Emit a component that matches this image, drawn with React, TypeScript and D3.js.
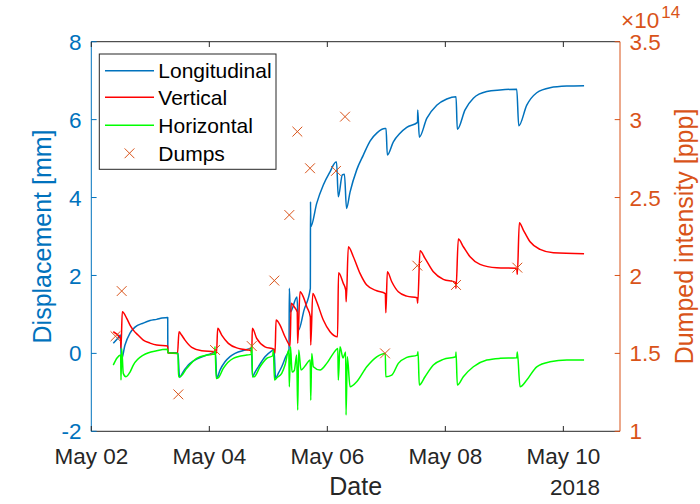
import React from "react";
import * as d3 from "d3";

// ---- data (time = days after 2018-05-02 00:00 UTC) ----
const longitudinal: [number, number][] = [
  [0.373, 0.257], [0.453, 0.393], [0.495, 0.47], [0.508, -0.17], [0.571, 0.213], [0.656, 0.521],
  [0.741, 0.675], [0.881, 0.778], [0.995, 0.842], [1.108, 0.873], [1.198, 0.906], [1.295, 0.924],
  [1.297, 0.02], [1.469, 0.008], [1.495, -0.616], [1.554, -0.48], [1.644, -0.30], [1.724, -0.198],
  [1.814, -0.128], [1.983, -0.031], [2.105, 0.02], [2.125, -0.642], [2.181, -0.429], [2.266, -0.216],
  [2.351, -0.082], [2.436, 0.0], [2.605, 0.085], [2.715, 0.128], [2.732, -0.6], [2.775, -0.48],
  [2.831, -0.344], [2.944, -0.087], [3.058, 0.067], [3.097, 0.103], [3.122, -0.642], [3.164, -0.53],
  [3.227, -0.344], [3.3, -0.07], [3.351, 0.085], [3.356, 1.669], [3.373, 1.06], [3.486, 1.445],
  [3.512, 0.598], [3.605, 1.11], [3.712, 1.669], [3.715, 3.892], [3.72, 3.25], [3.82, 3.85],
  [3.932, 4.32], [4.046, 4.66], [4.147, 4.91], [4.156, 4.91], [4.186, 4.02], [4.254, 4.58],
  [4.29, 4.6], [4.325, 3.72], [4.385, 4.14], [4.498, 4.71], [4.61, 5.09], [4.724, 5.45],
  [4.842, 5.66], [4.978, 5.77], [4.995, 5.77], [5.017, 5.09], [5.119, 5.43], [5.232, 5.65],
  [5.346, 5.8], [5.529, 5.93], [5.532, 6.25], [5.559, 5.55], [5.685, 6.03], [5.854, 6.37],
  [6.024, 6.53], [6.181, 6.59], [6.203, 5.75], [6.334, 6.25], [6.475, 6.55], [6.702, 6.72],
  [6.927, 6.76], [7.21, 6.78], [7.244, 5.84], [7.38, 6.37], [7.549, 6.69], [7.775, 6.82],
  [8.058, 6.86], [8.351, 6.87],
];

const vertical: [number, number][] = [
  [0.373, 0.555], [0.495, 0.38], [0.503, 0.136], [0.525, 1.068], [0.6, 0.9], [0.656, 0.727],
  [0.712, 0.598], [0.792, 0.47], [0.881, 0.341], [0.995, 0.264], [1.108, 0.213], [1.295, 0.187],
  [1.3, 0.008], [1.461, 0.0], [1.486, 0.555], [1.53, 0.47], [1.588, 0.341], [1.702, 0.154],
  [1.871, 0.067], [2.097, 0.041], [2.122, 0.008], [2.142, 0.642], [2.21, 0.47], [2.322, 0.257],
  [2.492, 0.128], [2.707, 0.072], [2.719, 0.008], [2.729, 0.642], [2.803, 0.385], [2.944, 0.169],
  [3.097, 0.103], [3.114, 0.008], [3.131, 0.855], [3.198, 0.727], [3.283, 0.426], [3.351, 0.226],
  [3.368, 0.187], [3.388, 1.284], [3.441, 1.19], [3.49, 1.06], [3.498, 0.257], [3.537, 1.58],
  [3.593, 1.45], [3.651, 1.196], [3.712, 0.94], [3.719, 0.213], [3.753, 1.54], [3.82, 1.325],
  [3.932, 0.855], [4.046, 0.555], [4.173, 0.426], [4.19, 2.07], [4.271, 1.797], [4.312, 1.625],
  [4.32, 1.325], [4.356, 2.737], [4.441, 2.48], [4.554, 2.054], [4.668, 1.753], [4.837, 1.607],
  [4.983, 1.535], [4.992, 1.042], [5.017, 2.095], [5.092, 1.838], [5.203, 1.58], [5.346, 1.47],
  [5.52, 1.427], [5.532, 1.284], [5.571, 2.634], [5.656, 2.439], [5.797, 2.095], [5.966, 1.9],
  [6.173, 1.823], [6.181, 1.669], [6.22, 2.934], [6.305, 2.737], [6.419, 2.48], [6.588, 2.285],
  [6.871, 2.198], [7.21, 2.182], [7.22, 2.028], [7.254, 3.353], [7.322, 3.166], [7.436, 2.865],
  [7.605, 2.67], [7.831, 2.583], [8.351, 2.557],
];

const horizontal: [number, number][] = [
  [0.373, -0.3], [0.436, -0.12], [0.498, -0.044], [0.503, -0.685], [0.515, 0.128], [0.542, -0.513],
  [0.588, -0.6], [0.656, -0.48], [0.712, -0.3], [0.881, -0.044], [1.108, 0.067], [1.292, 0.103],
  [1.297, 0.015], [1.469, 0.0], [1.478, -0.6], [1.503, -0.6], [1.617, -0.385], [1.786, -0.128],
  [1.956, -0.044], [2.088, -0.018], [2.097, 0.169], [2.117, -0.642], [2.15, -0.63], [2.237, -0.385],
  [2.407, -0.128], [2.634, -0.044], [2.71, -0.026], [2.719, 0.213], [2.732, -0.6], [2.76, -0.6],
  [2.859, -0.344], [2.973, -0.128], [3.075, -0.062], [3.085, 0.085], [3.105, -0.685], [3.15, -0.62],
  [3.227, -0.513], [3.283, -0.3], [3.347, 0.085], [3.356, -0.857], [3.376, 0.169], [3.402, -0.48],
  [3.44, -0.44], [3.481, -0.044], [3.498, -1.456], [3.515, 0.085], [3.554, -0.428], [3.622, -0.326],
  [3.71, -0.17], [3.719, -1.2], [3.736, 0.0], [3.763, -0.344], [3.876, -0.429], [3.99, -0.257],
  [4.102, 0.0], [4.178, 0.128], [4.186, -0.685], [4.215, 0.169], [4.266, -0.12], [4.311, 0.033],
  [4.317, -1.584], [4.339, -0.087], [4.385, -0.857], [4.498, -0.729], [4.668, -0.344], [4.837, -0.087],
  [4.983, 0.0], [4.99, -0.6], [5.092, -0.557], [5.203, -0.257], [5.346, -0.103], [5.525, -0.044],
  [5.537, 0.041], [5.559, -0.814], [5.656, -0.6], [5.797, -0.3], [5.966, -0.154], [6.176, -0.087],
  [6.181, 0.033], [6.203, -0.814], [6.305, -0.6], [6.475, -0.344], [6.702, -0.172], [6.927, -0.128],
  [7.21, -0.113], [7.22, 0.033], [7.266, -0.857], [7.38, -0.685], [7.549, -0.344], [7.775, -0.216],
  [8.058, -0.172], [8.351, -0.172],
];

// dumped intensity in units of 1e14 ppp
const dumps: [number, number][] = [
  [0.41, 1.61], [0.515, 1.9], [1.475, 1.237], [2.097, 1.522], [2.719, 1.547], [3.102, 1.967],
  [3.356, 2.388], [3.492, 2.923], [3.707, 2.688], [4.147, 2.671], [4.3, 3.019], [4.978, 1.5],
  [5.525, 2.063], [6.181, 1.939], [7.22, 2.05],
];

const leftTicks = [-2, 0, 2, 4, 6, 8];
const rightTicks = [1, 1.5, 2, 2.5, 3, 3.5];
const dateTicks = ["2018-05-02", "2018-05-04", "2018-05-06", "2018-05-08", "2018-05-10"];
const legendLabels = ["Longitudinal", "Vertical", "Horizontal", "Dumps"];

// ---- layout ----
const W = 700, H = 504;
const L = 91.3, R = 620, T = 41.7, B = 431.3;
const FONT = "'Liberation Sans', Arial, Helvetica, sans-serif";
const BLUE = "#0072BD", ORANGE = "#D95319", DARK = "#262626";
const START = Date.UTC(2018, 4, 2);
const DAY = 86400000;
const toDate = (t: number) => new Date(START + t * DAY);

export default function App() {
  const x = d3.scaleUtc().domain([toDate(0), toDate(8.96)]).range([L, R]);
  const yL = d3.scaleLinear().domain([-2, 8]).range([B, T]);
  const yR = d3.scaleLinear().domain([1, 3.5]).range([B, T]);
  const line = d3
    .line<[number, number]>()
    .x((d) => x(toDate(d[0])))
    .y((d) => yL(d[1]))
    .curve(d3.curveMonotoneX);
  const fmt = d3.utcFormat("%b %d");
  const tl = 5.3;
  const TICK_FS = 22.5;
  const LABEL_FS = 25;
  const series = [
    { data: longitudinal, color: BLUE },
    { data: vertical, color: "#FF0000" },
    { data: horizontal, color: "#00FF00" },
  ];
  const cross = (cx: number, cy: number, s = 4.9) =>
    `M${cx - s},${cy - s}L${cx + s},${cy + s}M${cx - s},${cy + s}L${cx + s},${cy - s}`;

  const legX0 = 99.3, legY0 = 54, legW = 176.7, legH = 115.3;
  const rowY = [70.7, 97.3, 125.3, 153.3];
  const legColors = [BLUE, "#FF0000", "#00FF00"];

  return (
    <svg
      width={W}
      height={H}
      style={{ position: "absolute", left: 0, top: 0, background: "#fff" }}
      fontFamily={FONT}
    >
      <rect x={0} y={0} width={W} height={H} fill="#fff" />
      {/* lines */}
      {series.map((s, i) => (
        <path key={i} d={line(s.data) || ""} fill="none" stroke={s.color} strokeWidth={1.5} strokeLinejoin="round" />
      ))}
      {/* dumps */}
      {dumps.map((d, i) => (
        <path key={i} d={cross(x(toDate(d[0])), yR(d[1]))} stroke={ORANGE} strokeWidth={1} fill="none" />
      ))}
      {/* axes box */}
      <line x1={L} x2={R} y1={B} y2={B} stroke={DARK} strokeWidth={1} />
      <line x1={L} x2={R} y1={T} y2={T} stroke={DARK} strokeWidth={1} />
      <line x1={L} x2={L} y1={T} y2={B} stroke={BLUE} strokeWidth={1} />
      <line x1={R} x2={R} y1={T} y2={B} stroke={ORANGE} strokeWidth={1} />
      {/* x ticks */}
      {dateTicks.map((s) => {
        const d = new Date(s + "T00:00:00Z");
        const px = x(d);
        return (
          <g key={s}>
            <line x1={px} x2={px} y1={B} y2={B - tl} stroke={DARK} />
            <line x1={px} x2={px} y1={T} y2={T + tl} stroke={DARK} />
            <text x={px} y={464} textAnchor="middle" fontSize={TICK_FS} fill={DARK}>
              {fmt(d)}
            </text>
          </g>
        );
      })}
      {/* left ticks */}
      {leftTicks.map((v) => (
        <g key={v}>
          <line x1={L} x2={L + tl} y1={yL(v)} y2={yL(v)} stroke={BLUE} />
          <text x={81.5} y={yL(v)} dy="0.36em" textAnchor="end" fontSize={TICK_FS} fill={BLUE}>
            {v}
          </text>
        </g>
      ))}
      {/* right ticks */}
      {rightTicks.map((v) => (
        <g key={v}>
          <line x1={R} x2={R - tl} y1={yR(v)} y2={yR(v)} stroke={ORANGE} />
          <text x={629.5} y={yR(v)} dy="0.36em" textAnchor="start" fontSize={TICK_FS} fill={ORANGE}>
            {v}
          </text>
        </g>
      ))}
      {/* exponent */}
      <text x={621} y={28} fontSize={TICK_FS} fill={ORANGE}>
        ×10
        <tspan dx={2} dy={-10} fontSize={17}>14</tspan>
      </text>
      {/* axis labels */}
      <text x={(L + R) / 2} y={495} textAnchor="middle" fontSize={LABEL_FS} fill={DARK}>
        Date
      </text>
      <text x={600} y={495} textAnchor="end" fontSize={TICK_FS} fill={DARK}>
        2018
      </text>
      <text
        transform={`translate(51,${(T + B) / 2}) rotate(-90)`}
        textAnchor="middle"
        fontSize={LABEL_FS}
        fill={BLUE}
      >
        Displacement [mm]
      </text>
      <text
        transform={`translate(693,${(T + B) / 2}) rotate(-90)`}
        textAnchor="middle"
        fontSize={LABEL_FS}
        fill={ORANGE}
      >
        Dumped intensity [ppp]
      </text>
      {/* legend */}
      <rect x={legX0} y={legY0} width={legW} height={legH} fill="#fff" stroke={DARK} strokeWidth={1} />
      {legendLabels.map((lab, i) => (
        <g key={lab}>
          {i < 3 ? (
            <line x1={105} x2={154} y1={rowY[i]} y2={rowY[i]} stroke={legColors[i]} strokeWidth={1.5} />
          ) : (
            <path d={cross(129.5, rowY[i])} stroke={ORANGE} strokeWidth={1} fill="none" />
          )}
          <text x={158.3} y={rowY[i]} dy="0.36em" fontSize={21} fill="#000">
            {lab}
          </text>
        </g>
      ))}
    </svg>
  );
}
